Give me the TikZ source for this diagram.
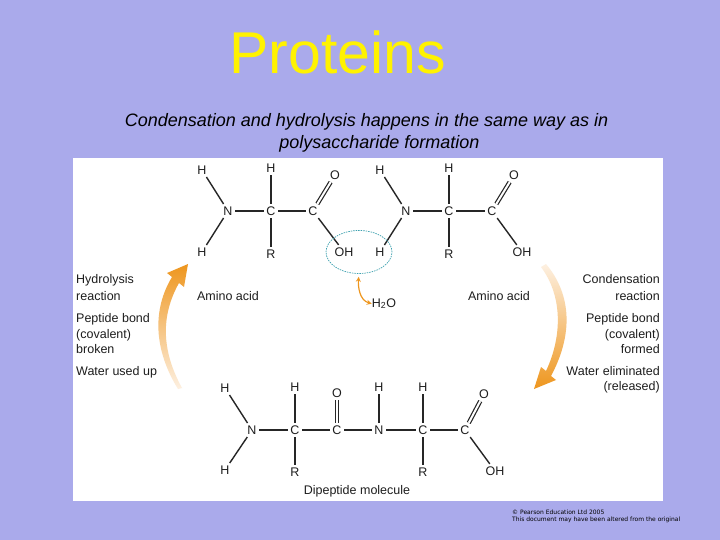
\documentclass[tikz,border=0pt]{standalone}
\usepackage{fontspec}
\setmainfont{Liberation Sans}
\newfontfamily\footfont{DejaVu Sans}
\usetikzlibrary{shapes.geometric}
\definecolor{slidebg}{RGB}{170,170,235}
\definecolor{arroworange}{RGB}{238,150,30}
\definecolor{arrowpale}{RGB}{253,240,225}
\definecolor{looptea}{RGB}{60,160,175}
\definecolor{inkgrey}{RGB}{30,30,30}
\tikzset{
	atom/.style={inner sep=2.5pt, font=\fontsize{12.5}{12.5}\selectfont, text=inkgrey},
	bond/.style={line width=1.4pt, black!85},
	dblbond/.style={line width=1.2pt, double, double distance=2pt, black!85},
	lefttext/.style={anchor=base west, inner sep=0pt, font=\fontsize{12.5}{12.5}\selectfont, text=inkgrey},
	righttext/.style={anchor=base east, inner sep=0pt, font=\fontsize{12.5}{12.5}\selectfont, text=inkgrey},
	midtext/.style={anchor=base, inner sep=0pt, font=\fontsize{12.5}{12.5}\selectfont, text=inkgrey},
	subtext/.style={anchor=base, inner sep=0pt, font=\fontsize{18}{18}\selectfont\itshape},
	foottext/.style={anchor=base west, inner sep=0pt, font=\footfont\fontsize{6}{6}\selectfont}
}
\begin{document}
\begin{tikzpicture}[x=1pt, y=-1pt]

	\fill[slidebg] (0,0) rectangle (720,540);
	\useasboundingbox (0,0) rectangle (720,540);
	\fill[white] (73,158) rectangle (663,501);

	\node[anchor=base west, inner sep=0pt, text=yellow, font=\fontsize{59}{59}\selectfont] (title) at (229,74) {Proteins};
	\node[subtext] (subone) at (366.5,127) {Condensation and hydrolysis happens in the same way as in};
	\node[subtext] (subtwo) at (379.5,149) {polysaccharide formation};

	\node[atom] (ah1) at (202,170) {H};
	\node[atom] (ah2) at (202,252) {H};
	\node[atom] (an) at (228,211) {N};
	\node[atom] (ac1) at (271,211) {C};
	\node[atom] (ah3) at (271,168) {H};
	\node[atom] (ar) at (271,254) {R};
	\node[atom] (ac2) at (313,211) {C};
	\node[atom] (ao) at (335,175) {O};
	\node[atom] (aoh) at (344,252) {OH};
	\node[atom] (bh1) at (380,170) {H};
	\node[atom] (bh2) at (380,252) {H};
	\node[atom] (bn) at (406,211) {N};
	\node[atom] (bc1) at (449,211) {C};
	\node[atom] (bh3) at (449,168) {H};
	\node[atom] (br) at (449,254) {R};
	\node[atom] (bc2) at (492,211) {C};
	\node[atom] (bo) at (514,175) {O};
	\node[atom] (boh) at (522,252) {OH};

	\draw[bond] (an) -- (ah1);
	\draw[bond] (an) -- (ah2);
	\draw[bond] (an) -- (ac1);
	\draw[bond] (ac1) -- (ah3);
	\draw[bond] (ac1) -- (ar);
	\draw[bond] (ac1) -- (ac2);
	\draw[dblbond] (ac2) -- (ao);
	\draw[bond] (ac2) -- (aoh);
	\draw[bond] (bn) -- (bh1);
	\draw[bond] (bn) -- (bh2);
	\draw[bond] (bn) -- (bc1);
	\draw[bond] (bc1) -- (bh3);
	\draw[bond] (bc1) -- (br);
	\draw[bond] (bc1) -- (bc2);
	\draw[dblbond] (bc2) -- (bo);
	\draw[bond] (bc2) -- (boh);

	\node[ellipse, draw=looptea, line width=0.7pt, dash pattern=on 1.5pt off 1pt, minimum width=66pt, minimum height=43pt, inner sep=0pt] (loop) at (359,252) {};
	\node[midtext] (water) at (384,307) {H\textsubscript{2}O};
	\draw[arroworange, line width=1.2pt, <->, >=stealth, shorten <=3pt] (loop.south) to[out=265, in=165] (water.west);

	\node[midtext] (acidleft) at (228,300) {Amino acid};
	\node[midtext] (acidright) at (499,300) {Amino acid};

	\node[atom] (ch1) at (225,388) {H};
	\node[atom] (ch2) at (225,470) {H};
	\node[atom] (cn) at (252,430) {N};
	\node[atom] (cc1) at (295,430) {C};
	\node[atom] (ch3) at (295,387) {H};
	\node[atom] (cr) at (295,472) {R};
	\node[atom] (cc2) at (337,430) {C};
	\node[atom] (co) at (337,393) {O};
	\node[atom] (dn) at (379,430) {N};
	\node[atom] (dh1) at (379,387) {H};
	\node[atom] (dc1) at (423,430) {C};
	\node[atom] (dh2) at (423,387) {H};
	\node[atom] (dr) at (423,472) {R};
	\node[atom] (dc2) at (465,430) {C};
	\node[atom] (do) at (484,394) {O};
	\node[atom] (doh) at (495,471) {OH};

	\draw[bond] (cn) -- (ch1);
	\draw[bond] (cn) -- (ch2);
	\draw[bond] (cn) -- (cc1);
	\draw[bond] (cc1) -- (ch3);
	\draw[bond] (cc1) -- (cr);
	\draw[bond] (cc1) -- (cc2);
	\draw[dblbond] (cc2) -- (co);
	\draw[bond] (cc2) -- (dn);
	\draw[bond] (dn) -- (dh1);
	\draw[bond] (dn) -- (dc1);
	\draw[bond] (dc1) -- (dh2);
	\draw[bond] (dc1) -- (dr);
	\draw[bond] (dc1) -- (dc2);
	\draw[dblbond] (dc2) -- (do);
	\draw[bond] (dc2) -- (doh);

	\node[midtext] (dipeptide) at (357,494) {Dipeptide molecule};

	\node[lefttext] (hyone) at (76,283) {Hydrolysis};
	\node[lefttext] (hytwo) at (76,300) {reaction};
	\node[lefttext] (hythree) at (76,322) {Peptide bond};
	\node[lefttext] (hyfour) at (76,338) {(covalent)};
	\node[lefttext] (hyfive) at (76,353) {broken};
	\node[lefttext] (hysix) at (76,375) {Water used up};

	\node[righttext] (coone) at (660,283) {Condensation};
	\node[righttext] (cotwo) at (660,300) {reaction};
	\node[righttext] (cothree) at (660,322) {Peptide bond};
	\node[righttext] (cofour) at (660,338) {(covalent)};
	\node[righttext] (cofive) at (660,353) {formed};
	\node[righttext] (cosix) at (660,375) {Water eliminated};
	\node[righttext] (coseven) at (660,390) {(released)};

	\shade[top color=arroworange, middle color=arroworange!55!arrowpale, bottom color=arrowpale] (178,389) .. controls (154,350) and (152,310) .. (172,277) -- (167,273) -- (188,264) -- (184,287) -- (179,283) .. controls (161,315) and (161,350) .. (182,388) -- cycle;
	\shade[top color=arrowpale, middle color=arroworange!55!arrowpale, bottom color=arroworange] (546,264) .. controls (572,295) and (573,335) .. (551,376) -- (556,380) -- (534,389) -- (541,367) -- (546,371) .. controls (563,335) and (562,295) .. (541,267) -- cycle;

	\node[foottext] (footone) at (512,514) {© Pearson Education Ltd 2005};
	\node[foottext] (foottwo) at (512,521) {This document may have been altered from the original};

\end{tikzpicture}
\end{document}
